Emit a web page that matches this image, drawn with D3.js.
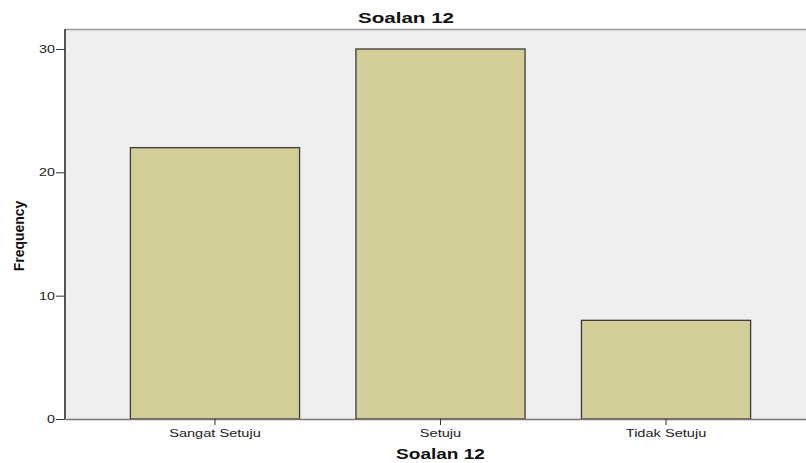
<!DOCTYPE html>
<html><head><meta charset="utf-8">
<script src="https://cdn.jsdelivr.net/npm/d3@7"></script>
<style>body{margin:0;background:#fff}svg{display:block}</style>
</head><body>
<svg id="c" width="806" height="463"></svg>
<script>
const categories = ["Sangat Setuju", "Setuju", "Tidak Setuju"];
const frequency = [22, 30, 8];
const yTicks = [0, 10, 20, 30];
const title = "Soalan 12";
const xTitle = "Soalan 12";
const yTitle = "Frequency";

const FONT = "Liberation Sans, Arial, sans-serif";
const svg = d3.select("#c");
const L = 65, R = 816, T = 29, B = 419;
const x = d3.scaleBand().domain(categories).range([L, R]).paddingInner(0.25).paddingOuter(0.29);
const y = d3.scaleLinear().domain([0, 31.62]).range([B, T]);

svg.append("rect").attr("x", L).attr("y", T).attr("width", R - L).attr("height", B - T).attr("fill", "#efefef");
svg.append("line").attr("x1", L).attr("x2", R).attr("y1", T + 0.5).attr("y2", T + 0.5).attr("stroke", "#999").attr("stroke-width", 1.5);

svg.selectAll("rect.bar").data(categories).join("rect").attr("class", "bar")
  .attr("x", d => x(d)).attr("y", (d, i) => y(frequency[i]))
  .attr("width", x.bandwidth()).attr("height", (d, i) => B - y(frequency[i]))
  .attr("fill", "#d3ce98").attr("stroke", "#3a3a3a").attr("stroke-width", 1.3);

const xa = svg.append("g").attr("transform", `translate(0,${B})`)
  .call(d3.axisBottom(x).tickSize(6).tickSizeOuter(0));
xa.select(".domain").attr("stroke", "#777").attr("stroke-width", 1.5);
xa.selectAll(".tick line").attr("stroke", "#333");
xa.selectAll("text").attr("font-family", FONT).attr("font-size", 11.5).attr("fill", "#222")
  .attr("y", 18).attr("dy", null).attr("transform", "scale(1.27,1)");

const sy = 1.3;
const ya = svg.append("g").attr("transform", `translate(${L},0)`)
  .call(d3.axisLeft(y).tickValues(yTicks).tickSize(9).tickSizeOuter(0).tickFormat(d3.format("d")));
ya.select(".domain").attr("stroke", "#555").attr("stroke-width", 2).attr("d", `M0,${T}V${B}`);
ya.selectAll(".tick line").attr("stroke", "#333");
ya.selectAll("text").attr("font-family", FONT).attr("font-size", 11).attr("fill", "#222")
  .attr("x", -10 / sy).attr("transform", `scale(${sy},1)`);

svg.append("text").attr("transform", "translate(406,23) scale(1.33,1)").attr("text-anchor", "middle")
  .attr("font-family", FONT).attr("font-weight", "bold").attr("font-size", 15.5).attr("fill", "#111").text(title);
svg.append("text").attr("transform", `translate(${(L + R) / 2 - 0},459) scale(1.36,1)`).attr("text-anchor", "middle")
  .attr("font-family", FONT).attr("font-weight", "bold").attr("font-size", 14).attr("fill", "#111").text(xTitle);
svg.append("text").attr("transform", "translate(24,236) rotate(-90) scale(0.93,1)").attr("text-anchor", "middle")
  .attr("font-family", FONT).attr("font-weight", "bold").attr("font-size", 15).attr("fill", "#111").text(yTitle);
</script>
</body></html>
